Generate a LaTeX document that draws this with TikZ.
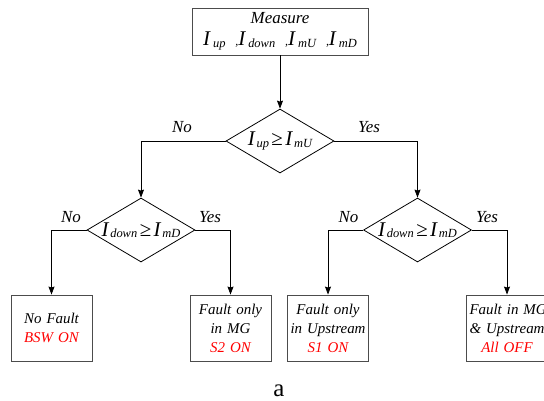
\documentclass[tikz,border=0pt]{standalone}
\usepackage{fontspec}
\setmainfont{Liberation Serif}
\usepackage{xcolor}
\usetikzlibrary{shapes.geometric}
\usetikzlibrary{arrows.meta}
\usetikzlibrary{positioning}

\newcommand{\Icur}[1]{{\fontsize{21}{22}\selectfont\itshape I}\,\raisebox{-0.3ex}{\fontsize{12.5}{12}\selectfont\itshape #1}}
\newcommand{\Isep}{\hspace{10bp}{\fontsize{12}{12}\selectfont\itshape ,}}
\newcommand{\geqbig}{\hspace{2.5bp}{\fontsize{21}{22}\selectfont ≥}\hspace{2.5bp}}

\begin{document}
\begin{tikzpicture}[x=1bp, y=-1bp, line width=0.8pt,
  decision/.style={diamond, draw, minimum width=108bp, minimum height=64bp, inner sep=0pt},
  result/.style={rectangle, draw=black!70, line width=0.9pt, minimum width=81bp,
    minimum height=66bp, text width=75bp, align=center, inner sep=3bp,
    font=\fontsize{15}{19}\selectfont\itshape},
  answer/.style={anchor=base, inner sep=0pt, font=\fontsize{17}{17}\selectfont\itshape},
]
\tikzset{>={Stealth[length=8bp, width=6bp, inset=1bp]}}
\useasboundingbox (0,0) rectangle (544,400);

  % Nodes
  \node[rectangle, draw=black!70, line width=0.9pt, minimum width=176bp, minimum height=47bp,
    align=center, inner sep=0pt, font=\fontsize{17}{22}\selectfont\itshape] (meas) at (280,31.5)
    {Measure\\
     \Icur{up}\Isep\Icur{down}\Isep\Icur{mU}\Isep\Icur{mD}};
  \node[decision] (cmpU) at (280,141) {\makebox[0pt]{\Icur{up}\geqbig\Icur{mU}}};
  \node[decision] (cmpDl) at (141,230) {\makebox[0pt]{\Icur{down}\geqbig\Icur{mD}}};
  \node[decision] (cmpDr) at (417.5,230) {\makebox[0pt]{\Icur{down}\geqbig\Icur{mD}}};

  \node[result] (nofault) at (51.5,328) {No~Fault\\ \textcolor{red}{BSW~ON}};
  \node[result] (faultmg) at (230.5,328) {Fault~only\\ in~MG\\ \textcolor{red}{S2~ON}};
  \node[result] (faultup) at (328,328) {Fault~only\\ in~Upstream\\ \textcolor{red}{S1~ON}};
  \node[result] (faultall) at (507,328) {Fault~in~MG\\ \&~Upstream\\ \textcolor{red}{All~OFF}};

  \node[answer] (noU) at (182,132) {No};
  \node[answer] (yesU) at (369,132) {Yes};
  \node[answer] (noDl) at (71,222) {No};
  \node[answer] (yesDl) at (210,222) {Yes};
  \node[answer] (noDr) at (348.5,222) {No};
  \node[answer] (yesDr) at (487,222) {Yes};

  \node[anchor=base, inner sep=0pt, font=\fontsize{25}{25}\selectfont] (cap) at (279,396) {a};

  % Edges
  \draw[->] (meas) -- (cmpU);
  \draw[->] (cmpU.west) -| (cmpDl.north);
  \draw[->] (cmpU.east) -| (cmpDr.north);
  \draw[->] (cmpDl.west) -| (nofault.north);
  \draw[->] (cmpDl.east) -| (faultmg.north);
  \draw[->] (cmpDr.west) -| (faultup.north);
  \draw[->] (cmpDr.east) -| (faultall.north);
\end{tikzpicture}
\end{document}
